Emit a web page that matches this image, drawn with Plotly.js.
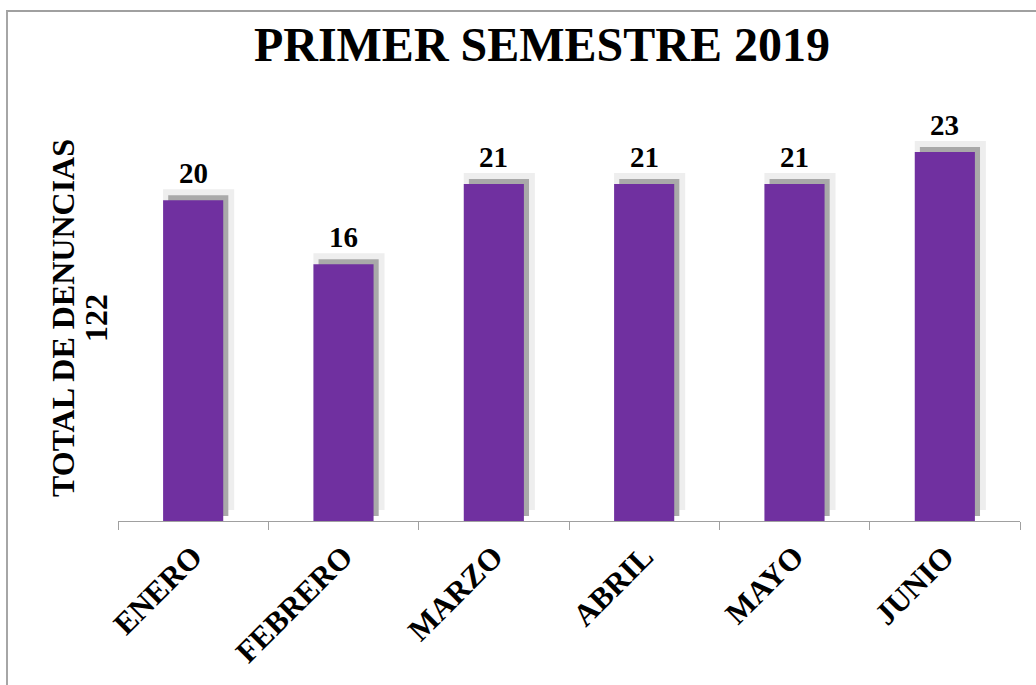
<!DOCTYPE html>
<html>
<head>
<meta charset="utf-8">
<script src="https://cdn.plot.ly/plotly-3.0.1.min.js"></script>
<style>
  html, body { margin: 0; padding: 0; background: #ffffff; overflow: hidden; width: 1036px; height: 685px; }
  #frame { position: absolute; left: 6px; top: 10px; width: 1100px; height: 800px; border-left: 2px solid #A6A6A6; border-top: 2px solid #A0A0A0; box-sizing: border-box; }
  #chart { position: absolute; left: 0; top: 0; width: 1036px; height: 685px; }
</style>
</head>
<body>
<div id="frame"></div>
<div id="chart"></div>
<script>
// ---- data ----
const months = ["ENERO", "FEBRERO", "MARZO", "ABRIL", "MAYO", "JUNIO"];
const denuncias = [20, 16, 21, 21, 21, 23];
const titleText = "PRIMER SEMESTRE 2019";
const yTitleLines = ["TOTAL DE DENUNCIAS", "122"];

// ---- layout constants ----
const W = 1036, H = 685;
const M = { l: 118, r: 16, t: 110, b: 164 };
const plotW = W - M.l - M.r;           // 902
const plotH = H - M.t - M.b;           // 411
const yMax = 25.62;
const pxPerUnit = plotH / yMax;
const shadowShift = 5;   // px up
const fringeShift = 11;  // px up
const serif = "Liberation Serif";

function shiftedAxis(px) {
  return {
    domain: [px / plotH, 1],
    range: [0, yMax - px / pxPerUnit],
    anchor: "x",
    visible: false,
    fixedrange: true
  };
}

// bottom layer: soft fringe (y), middle: grey shadow (y2), top: purple bars (y3)
const fringe = {
  type: "bar", x: months, y: denuncias, yaxis: "y",
  width: 0.473, offset: -0.2,
  marker: { color: "#EEEEEE", line: { width: 0 } },
  hoverinfo: "skip"
};
const shadow = {
  type: "bar", x: months, y: denuncias, yaxis: "y2",
  width: 0.4, offset: -0.166,
  marker: { color: "#A9A9A9", line: { width: 0 } },
  hoverinfo: "skip"
};
const main = {
  type: "bar", x: months, y: denuncias, yaxis: "y3",
  width: 0.4, offset: -0.2,
  marker: { color: "#7030A0", line: { width: 0 } }
};

const labels = months.map((m, i) => ({
  x: m, y: denuncias[i], xref: "x", yref: "y3",
  text: "<b>" + denuncias[i] + "</b>",
  showarrow: false, yanchor: "bottom", xanchor: "center",
  yshift: 9,
  font: { family: serif, size: 29, color: "#000000" }
}));

const yTitleX = [63, 96];
const yTitleAnn = yTitleLines.map((t, i) => ({
  text: "<b>" + t + "</b>",
  xref: "paper", yref: "paper",
  x: (yTitleX[i] - M.l) / plotW, y: (H - M.b - 318) / plotH,
  xanchor: "center", yanchor: "middle",
  textangle: -90, showarrow: false,
  font: { family: serif, size: 32, color: "#000000" }
}));

const layout = {
  width: W, height: H,
  margin: M,
  paper_bgcolor: "rgba(0,0,0,0)",
  plot_bgcolor: "rgba(0,0,0,0)",
  barmode: "overlay",
  showlegend: false,
  title: {
    text: "<b>" + titleText + "</b>",
    font: { family: serif, size: 48, color: "#000000" },
    xref: "paper", x: 0.47, xanchor: "center",
    yref: "container", y: 0.935, yanchor: "middle"
  },
  xaxis: {
    type: "category",
    range: [-0.5, 5.5],
    anchor: "free", position: 0,
    showline: true, linecolor: "#A0A0A0", linewidth: 1,
    ticks: "outside", tickson: "boundaries", ticklen: 8, tickcolor: "#A0A0A0",
    tickangle: -45,
    ticklabelstandoff: 4,
    tickfont: { family: serif, size: 31, color: "#000000", weight: "bold" },
    showgrid: false, zeroline: false, fixedrange: true
  },
  yaxis: shiftedAxis(fringeShift),
  yaxis2: shiftedAxis(shadowShift),
  yaxis3: shiftedAxis(0),
  annotations: labels.concat(yTitleAnn)
};

Plotly.newPlot("chart", [fringe, shadow, main], layout, { displayModeBar: false, staticPlot: true });
</script>
</body>
</html>
